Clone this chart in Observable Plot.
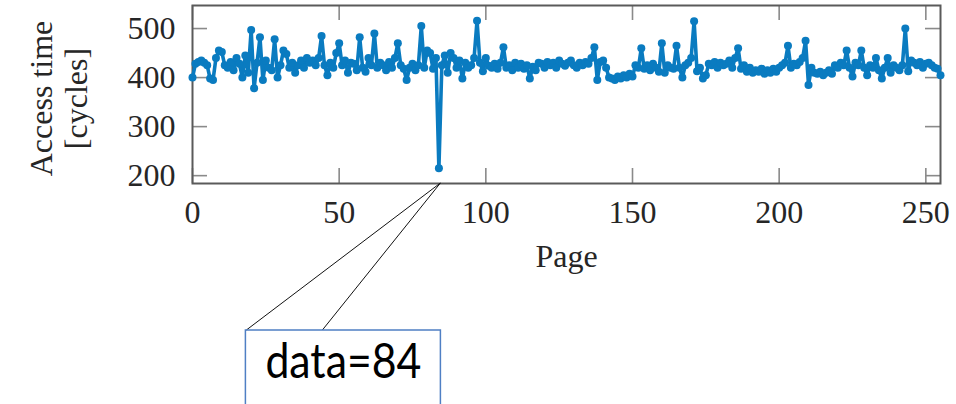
<!DOCTYPE html>
<html>
<head>
<meta charset="utf-8">
<script src="https://cdn.jsdelivr.net/npm/d3@7"></script>
<script src="https://cdn.jsdelivr.net/npm/@observablehq/plot@0.6"></script>
<style>
  html, body { margin: 0; padding: 0; background: #fff; }
  #chart { width: 956px; height: 404px; overflow: hidden; }
</style>
</head>
<body>
<div id="chart"></div>
<script>
// Access time (cycles) per page 0..255
const accessTime = [
  400, 428, 432, 435, 430, 425, 398, 395, 440, 455, 452, 425, 420, 432, 415, 440,
  428, 400, 445, 410, 497, 378, 430, 482, 395, 435, 420, 415, 478, 400, 425, 455,
  448, 420, 430, 410, 425, 435, 420, 440, 430, 435, 425, 440, 485, 425, 405, 430,
  420, 450, 470, 425, 435, 410, 430, 428, 415, 482, 420, 412, 440, 425, 490, 420,
  430, 425, 415, 432, 420, 440, 470, 425, 418, 395, 420, 428, 415, 425, 505, 420,
  455, 450, 418, 440, 215, 425, 445, 410, 450, 440, 420, 435, 398, 430, 420, 425,
  440, 516, 430, 413, 440, 424, 420, 428, 418, 430, 462, 420, 425, 415, 430, 420,
  428, 418, 425, 398, 422, 415, 430, 428, 420, 432, 425, 430, 420, 435, 428, 424,
  430, 435, 425, 420, 430, 425, 432, 428, 440, 462, 395, 432, 435, 420, 400, 398,
  395, 402, 398, 405, 400, 408, 402, 425, 420, 460, 418, 425, 415, 428, 420, 412,
  470, 410, 425, 420, 418, 465, 420, 400, 425, 430, 440, 515, 413, 420, 398, 405,
  428, 425, 432, 420, 430, 425, 428, 435, 420, 440, 460, 418, 425, 412, 420, 410,
  415, 412, 418, 408, 415, 410, 418, 412, 420, 425, 430, 465, 420, 428, 425, 432,
  440, 475, 385, 420, 410, 408, 412, 405, 410, 415, 408, 425, 420, 430, 425, 455,
  420, 402, 430, 425, 455, 420, 405, 425, 420, 440, 415, 398, 420, 440, 410, 425,
  420, 415, 425, 500, 413, 435, 430, 425, 432, 420, 428, 430, 425, 420, 418, 405
];
const pages = accessTime.map((_, i) => i);
const xTicks = [0, 50, 100, 150, 200, 250];
const yTicks = [200, 300, 400, 500];
const xLabel = "Page";
const yLabel = "Access time\n[cycles]";
const calloutPage = 84;
const calloutText = "data=84";

const data = pages.map((p, i) => ({page: p, time: accessTime[i]}));

const BLUE = "#0a7bc0";
const SERIF = "'Liberation Serif', 'Times New Roman', serif";
const TXT = "#262626";

const chart = Plot.plot({
  width: 956,
  height: 404,
  marginLeft: 192,
  marginRight: 16,
  marginTop: 5,
  marginBottom: 221,
  style: {fontFamily: SERIF, fontSize: "32px", background: "#fff", color: TXT},
  x: {domain: [0, 255]},
  y: {domain: [184, 547]},
  marks: [
    // inward ticks on all four sides
    Plot.ruleX(xTicks, {x: d => d, insetTop: 163, stroke: "#8a8a8a", strokeWidth: 1.6}),
    Plot.ruleX(xTicks, {x: d => d, insetBottom: 163, stroke: "#8a8a8a", strokeWidth: 1.6}),
    Plot.ruleY(yTicks, {y: d => d, insetRight: 733, stroke: "#8a8a8a", strokeWidth: 1.6}),
    Plot.ruleY(yTicks, {y: d => d, insetLeft: 733, stroke: "#8a8a8a", strokeWidth: 1.6}),
    Plot.frame({stroke: "#5a5a5a", strokeWidth: 2}),
    Plot.axisX(xTicks, {tickSize: 0, tickPadding: 17, fontSize: 32, fill: TXT, label: null}),
    Plot.axisY(yTicks, {tickSize: 0, tickPadding: 17, fontSize: 32, fill: TXT, label: null}),
    Plot.text([xLabel], {frameAnchor: "bottom", dy: 83, fontSize: 32, fill: TXT}),
    Plot.text([yLabel], {frameAnchor: "left", textAnchor: "middle", rotate: -90, dx: -134, dy: 4, fontSize: 32, fill: TXT, lineHeight: 1.1}),
    Plot.line(data, {x: "page", y: "time", stroke: BLUE, strokeWidth: 3.6, curve: "linear"}),
    Plot.dot(data, {x: "page", y: "time", r: 4, fill: BLUE, stroke: "none"})
  ]
});

document.getElementById("chart").appendChild(chart);

// Callout annotation pointing at page 84, anchored through the x scale
const sx = chart.scale("x");
const tipX = sx.apply(calloutPage);
const svg = d3.select(chart);
const tipY = 183;
const boxRight = tipX + 2;
const boxLeft = boxRight - 195;
const boxTop = 330;
const g = svg.append("g");
g.append("line").attr("x1", tipX + 2).attr("y1", tipY).attr("x2", boxLeft + 1).attr("y2", boxTop)
  .attr("stroke", "#111").attr("stroke-width", 1);
g.append("line").attr("x1", tipX + 2).attr("y1", tipY).attr("x2", boxLeft + 77).attr("y2", boxTop)
  .attr("stroke", "#111").attr("stroke-width", 1);
g.append("path")
  .attr("d", `M${boxLeft},404 V${boxTop} H${boxRight} V404`)
  .attr("fill", "none").attr("stroke", "#4f7fc4").attr("stroke-width", 1.5);
g.append("text")
  .attr("x", boxLeft + 20).attr("y", 378)
  .attr("text-anchor", "start")
  .attr("font-family", "Lato, 'Liberation Sans', sans-serif")
  .attr("font-size", 48)
  .attr("fill", "#000")
  .attr("textLength", 156)
  .attr("lengthAdjust", "spacingAndGlyphs")
  .text(calloutText);
</script>
</body>
</html>
